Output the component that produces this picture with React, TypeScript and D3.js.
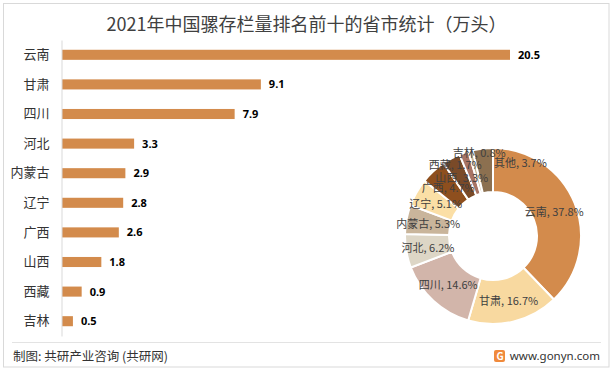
import React, { useEffect, useRef } from 'react';
import * as d3 from 'd3';

// bar chart data (万头)
const provinces = ['云南', '甘肃', '四川', '河北', '内蒙古', '辽宁', '广西', '山西', '西藏', '吉林'];
const stock = [20.5, 9.1, 7.9, 3.3, 2.9, 2.8, 2.6, 1.8, 0.9, 0.5];

// donut share data (%)
const shareNames = ['云南', '甘肃', '四川', '河北', '内蒙古', '辽宁', '广西', '山西', '西藏', '吉林', '其他'];
const shareValues = [37.8, 16.7, 14.6, 6.2, 5.3, 5.1, 4.7, 3.3, 1.7, 0.8, 3.7];
const shareColors = ['#d38b4c', '#f8d9a0', '#d2b5aa', '#ddd6c6', '#c9b59b', '#fbdfa6', '#8e4f1e', '#7a4a28', '#a87464', '#c9b590', '#8c7050'];

// Excel moved a few crowded labels away from their centroids
const labelNudge: Record<string, [number, number]> = {
  '西藏': [-16, -9],
  '吉林': [3, -20],
  '其他': [35, -8],
};

const W = 613;
const H = 371;
const FONT = '"Noto Sans CJK SC", "Noto Sans", sans-serif';

const App: React.FC = () => {
  const svgRef = useRef<SVGSVGElement>(null);

  useEffect(() => {
    if (!svgRef.current) return;
    const svg = d3.select(svgRef.current);
    svg.selectAll('*').remove();

    // frame
    svg.append('rect')
      .attr('x', 3.5).attr('y', 3.5)
      .attr('width', W - 7.5).attr('height', H - 7.5)
      .attr('fill', '#fff').attr('stroke', '#d9d9d9');

    // title
    svg.append('text')
      .attr('x', W / 2).attr('y', 31)
      .attr('text-anchor', 'middle')
      .style('font-family', FONT).style('font-size', '18px').style('fill', '#404040')
      .text('2021年中国骡存栏量排名前十的省市统计（万头）');

    // bars
    const x = d3.scaleLinear().domain([0, 20.5]).range([62, 510]);
    const y = d3.scaleBand<string>().domain(provinces).range([40, 336]).paddingInner(0.66).paddingOuter(0.33);

    const rows = provinces.map((p, i) => ({ p, v: stock[i] }));

    svg.append('g').selectAll('rect')
      .data(rows).join('rect')
      .attr('x', x(0))
      .attr('y', d => y(d.p)!)
      .attr('width', d => x(d.v) - x(0))
      .attr('height', y.bandwidth())
      .attr('fill', '#d38b4c');

    svg.append('g').selectAll('text')
      .data(rows).join('text')
      .attr('x', d => x(d.v) + 8)
      .attr('y', d => y(d.p)! + y.bandwidth() / 2)
      .attr('dy', '0.36em')
      .style('font-family', '"Noto Sans", sans-serif').style('font-size', '11px')
      .style('font-weight', 'bold').style('fill', '#000')
      .text(d => d.v.toFixed(1));

    const yAxis = svg.append('g')
      .attr('transform', `translate(${x(0) - 0.5},0)`)
      .call(d3.axisLeft(y).tickSize(0).tickPadding(12));
    yAxis.select('.domain').attr('stroke', '#d9d9d9');
    yAxis.selectAll('text')
      .style('font-family', FONT).style('font-size', '13px').style('fill', '#333');

    // donut
    const cx = 493, cy = 236, rOut = 88, rIn = 44;
    const pie = d3.pie<number>().sort(null).value(d => d);
    const arcs = pie(shareValues);
    const arc = d3.arc<d3.PieArcDatum<number>>().innerRadius(rIn).outerRadius(rOut);
    const labelArc = d3.arc<d3.PieArcDatum<number>>().innerRadius(66).outerRadius(66);

    const g = svg.append('g').attr('transform', `translate(${cx},${cy})`);
    g.selectAll('path')
      .data(arcs).join('path')
      .attr('d', arc)
      .attr('fill', (_, i) => shareColors[i])
      .attr('stroke', '#fff').attr('stroke-width', 2);

    g.selectAll('text')
      .data(arcs).join('text')
      .attr('transform', (d, i) => {
        const [lx, ly] = labelArc.centroid(d);
        const n = labelNudge[shareNames[i]] || [0, 0];
        return `translate(${lx + n[0]},${ly + n[1]})`;
      })
      .attr('text-anchor', 'middle')
      .attr('dy', '0.4em')
      .style('font-family', FONT).style('font-size', '11px').style('fill', '#404040')
      .text((d, i) => `${shareNames[i]}, ${d.data.toFixed(1)}%`);

    // footer
    svg.append('line')
      .attr('x1', 12).attr('x2', 601).attr('y1', 342.5).attr('y2', 342.5)
      .attr('stroke', '#e3e3e3');
    svg.append('text')
      .attr('x', 13).attr('y', 361)
      .style('font-family', FONT).style('font-size', '12.5px').style('fill', '#333')
      .text('制图: 共研产业咨询 (共研网)');
    svg.append('rect')
      .attr('x', 494).attr('y', 350).attr('width', 11).attr('height', 12)
      .attr('rx', 2).attr('fill', '#f08a3c');
    svg.append('text')
      .attr('x', 496.5).attr('y', 360)
      .style('font-family', FONT).style('font-size', '10px').style('font-weight', 'bold').style('fill', '#fff')
      .text('G');
    svg.append('text')
      .attr('x', 600).attr('y', 360)
      .attr('text-anchor', 'end')
      .style('font-family', '"Noto Sans", sans-serif').style('font-size', '11.5px').style('fill', '#333')
      .text('www.gonyn.com');
  }, []);

  return (
    <svg ref={svgRef} width={W} height={H} style={{ display: 'block', position: 'absolute', left: 0, top: 0 }} />
  );
};

export default App;
